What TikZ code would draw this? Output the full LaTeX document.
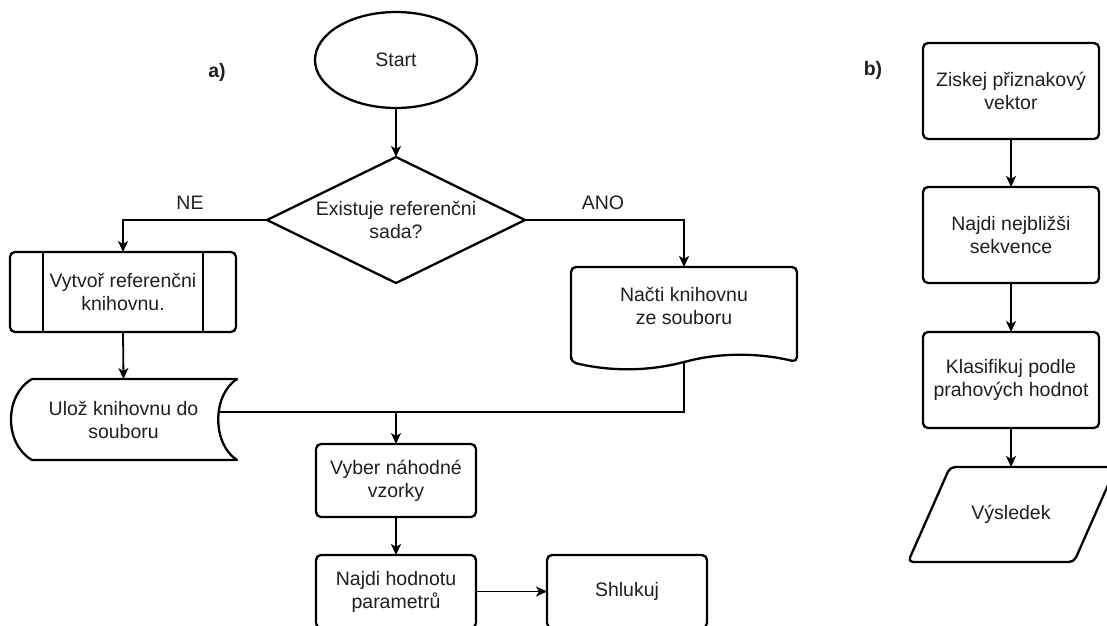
\documentclass[tikz,border=0pt]{standalone}
\usepackage{fontspec}
\setmainfont{Liberation Sans}
\usetikzlibrary{arrows.meta,shapes.geometric}
\begin{document}
\begin{tikzpicture}[x=1pt,y=-1pt,
  txt/.style={font=\fontsize{19.5}{23}\selectfont, text=black!88, align=center, inner sep=0pt, outer sep=0pt},
  lab/.style={txt, font=\fontsize{19.5}{23}\selectfont\bfseries},
  shp/.style={line width=2.3pt, line join=round, rounded corners=5pt},
  procbox/.style={txt, draw, line width=2.3pt, rounded corners=5pt, minimum width=160pt, minimum height=73pt},
  bbox/.style={procbox, minimum width=176pt, minimum height=96pt},
  plain/.style={line width=1.8pt},
  conn/.style={line width=1.8pt, -{Stealth[length=11pt,width=10pt,inset=3pt]}}]
\clip (0,0) rectangle (1107,625);
\fill[white] (0,0) rectangle (1107,625);

% labels a) b)
\node[lab] (la) at (217,72) {a)};
\node[lab] (lb) at (873,70) {b)};

% start
\node[ellipse, draw, line width=2.3pt, txt, minimum width=162pt, minimum height=96pt] (start) at (396,60) {Start};

% decision
\node[txt, minimum width=258pt, minimum height=126pt] (dec) at (396,220) {Existuje referenčni\\sada?};
\draw[line width=2.3pt, line join=round] (dec.north) -- (dec.east) -- (dec.south) -- (dec.west) -- cycle;

% predefined process
\node[txt, minimum width=226pt, minimum height=80pt] (pp) at (123,292) {Vytvoř referenčni\\knihovnu.};
\draw[shp] (10,252) rectangle (236,332);
\draw[line width=2.3pt] (43,252) -- (43,332);
\draw[line width=2.3pt] (203,252) -- (203,332);

% stored data
\node[txt, minimum width=227pt, minimum height=81pt] (stor) at (123.5,419.5) {Ulož knihovnu do\\souboru};
\draw[line width=2.3pt, line join=round] (32,379) -- (237,379) .. controls (212,395) and (212,444) .. (237,460) -- (32,460) .. controls (4,444) and (4,395) .. (32,379) -- cycle;
\coordinate (storR) at (219,412);

% document
\node[txt, minimum width=226pt, minimum height=78pt] (doc) at (684,306) {Načti knihovnu\\ze souboru};
\draw[shp] (571,362) -- (571,267) -- (797,267) -- (797,362) .. controls (759,352.7) and (721,352.7) .. (684,362) .. controls (646,371.3) and (609,371.3) .. (571,362) -- cycle;
\coordinate (docBot) at (684,362);

% lower boxes
\node[procbox] (vyber) at (396,480.5) {Vyber náhodné\\vzorky};
\node[procbox] (najdi) at (396,591.5) {Najdi hodnotu\\parametrů};
\node[procbox] (shl) at (627,591.5) {Shlukuj};

% junction
\coordinate (J) at (684,412);
\coordinate (M) at (396,412);

% connectors a)
\draw[conn] (start.south) -- (dec.north);
\draw[conn] (dec.west) -| (pp.north);
\draw[conn] (dec.east) -| (doc.north);
\node[txt] (ne) at (190,203) {NE};
\node[txt] (ano) at (603,203) {ANO};
\draw[conn] (pp.south) -- (stor.north);
\draw[plain] (docBot) -- (J) -- (storR);
\draw[conn] (M) -- (vyber.north);
\draw[conn] (vyber.south) -- (najdi.north);
\draw[conn] (najdi.east) -- (shl.west);

% b) column
\node[bbox] (b1) at (1011,91) {Ziskej přiznakový\\vektor};
\node[bbox] (b2) at (1011,235) {Najdi nejbližši\\sekvence};
\node[bbox] (b3) at (1011,380) {Klasifikuj podle\\prahových hodnot};
\node[txt, minimum width=166pt, minimum height=95pt] (out) at (1011,514.5) {Výsledek};
\draw[shp] (950,467) -- (1116,467) -- (1074,562) -- (908,562) -- cycle;

\draw[conn] (b1.south) -- (b2.north);
\draw[conn] (b2.south) -- (b3.north);
\draw[conn] (b3.south) -- (out.north);
\end{tikzpicture}
\end{document}
